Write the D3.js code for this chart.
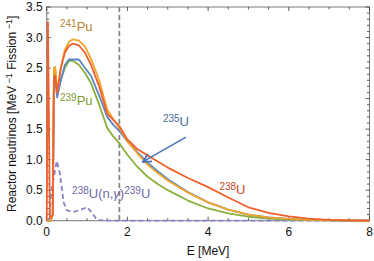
<!DOCTYPE html>
<html>
<head>
<meta charset="utf-8">
<script src="https://cdn.jsdelivr.net/npm/d3@7"></script>
<style>
  body { margin: 0; background: #fff; }
  text { font-family: "Liberation Sans", Arial, sans-serif; }
</style>
</head>
<body>
<div class="chart"></div>
<script>
// energy grid (MeV) shared by the four fission spectra
const energy = [0,0.03,0.08,0.1,0.15,0.18,0.21,0.26,0.35,0.45,0.55,0.65,0.8,0.95,1.1,1.3,1.5,1.65,1.8,2.0,2.25,2.5,2.75,3.0,3.5,4.0,4.5,5.0,5.5,6.0,6.5,7.0,7.5,8.0]
const u238  = [0,3.25,0.05,0.05,0.1,2.35,2.38,2.1,2.5,2.75,2.86,2.9,2.87,2.75,2.55,2.2,1.75,1.65,1.55,1.33,1.17,1.07,0.97,0.87,0.7,0.55,0.38,0.22,0.13,0.07,0.035,0.015,0.005,0]
const pu241 = [0,0,0,0,0.1,2.5,2.52,2.1,2.5,2.8,2.93,2.97,2.95,2.85,2.65,2.3,1.82,1.66,1.52,1.3,1.1,0.92,0.78,0.66,0.46,0.3,0.18,0.1,0.055,0.03,0.015,0.008,0.003,0]
const u235  = [0,0,0,0,0.1,2.3,2.3,2.02,2.3,2.55,2.64,2.64,2.64,2.5,2.37,2.05,1.7,1.57,1.47,1.3,1.12,0.95,0.81,0.68,0.47,0.3,0.18,0.1,0.055,0.03,0.015,0.008,0.003,0]
const pu239 = [0,0,0,0,0.1,2.5,2.5,2.08,2.3,2.5,2.62,2.62,2.55,2.42,2.25,1.9,1.52,1.38,1.27,1.08,0.88,0.72,0.6,0.5,0.33,0.2,0.12,0.065,0.035,0.02,0.01,0.005,0.002,0]

// 238U(n,gamma)239U spectrum
const captureE = [0,0.05,0.12,0.25,0.32,0.42,0.5,0.65,0.8,1.0,1.1,1.25,1.5,8]
const capture  = [0,0,0.5,0.98,0.8,0.3,0.17,0.14,0.17,0.22,0.15,0.01,0,0]

const threshold = 1.8
const xTicks = [0,2,4,6,8]
const yTicks = [0,0.5,1,1.5,2,2.5,3,3.5]

const width = 374, height = 261
const margin = {top: 7, right: 4.5, bottom: 40.3, left: 46.7}

const svg = d3.select('.chart').append('svg')
    .attr('width', width)
    .attr('height', height)

const x = d3.scaleLinear().domain([0, 8]).range([margin.left, width - margin.right])
const y = d3.scaleLinear().domain([0, 3.5]).range([height - margin.bottom, margin.top])

const tickColor = '#333'

// frame
svg.append('rect')
    .attr('x', x(0)).attr('y', y(3.5))
    .attr('width', x(8) - x(0)).attr('height', y(0) - y(3.5))
    .attr('fill', 'none').attr('stroke', '#7a7a7a').attr('stroke-width', 1)

// minor + major ticks on all four sides, pointing inward
d3.range(0, 8.01, 0.5).forEach(t => {
    const major = Math.abs(t % 2) < 1e-6
    const len = major ? 4 : 2.5
    svg.append('line').attr('x1', x(t)).attr('x2', x(t))
        .attr('y1', y(0)).attr('y2', y(0) - len).attr('stroke', tickColor).attr('stroke-width', 0.8)
    svg.append('line').attr('x1', x(t)).attr('x2', x(t))
        .attr('y1', y(3.5)).attr('y2', y(3.5) + len).attr('stroke', tickColor).attr('stroke-width', 0.8)
})
d3.range(0, 3.501, 0.1).forEach(t => {
    const major = Math.abs(Math.round(t * 10) % 5) === 0
    const len = major ? 4 : 2.5
    svg.append('line').attr('x1', x(0)).attr('x2', x(0) + len)
        .attr('y1', y(t)).attr('y2', y(t)).attr('stroke', tickColor).attr('stroke-width', 0.8)
    svg.append('line').attr('x1', x(8)).attr('x2', x(8) - len)
        .attr('y1', y(t)).attr('y2', y(t)).attr('stroke', tickColor).attr('stroke-width', 0.8)
})

// tick labels
svg.selectAll('.xl').data(xTicks).enter().append('text')
    .attr('x', d => x(d)).attr('y', y(0) + 15)
    .attr('text-anchor', 'middle').attr('font-size', 12).attr('fill', '#111')
    .text(d => d)
svg.selectAll('.yl').data(yTicks).enter().append('text')
    .attr('x', x(0) - 4).attr('y', d => y(d) + 4)
    .attr('text-anchor', 'end').attr('font-size', 12).attr('fill', '#111')
    .text(d => d.toFixed(1))

// axis titles
svg.append('text')
    .attr('x', (x(0) + x(8)) / 2).attr('y', 255)
    .attr('text-anchor', 'middle').attr('font-size', 12).attr('fill', '#111')
    .text('E [MeV]')
const yt = svg.append('text')
    .attr('transform', 'translate(16,' + ((y(0) + y(3.5)) / 2) + ') rotate(-90)')
    .attr('text-anchor', 'middle').attr('font-size', 12).attr('fill', '#111')
yt.append('tspan').text('Reactor neutrinos [MeV')
yt.append('tspan').attr('dy', -4).attr('font-size', 9).text(' \u22121')
yt.append('tspan').attr('dy', 4).text(' Fission')
yt.append('tspan').attr('dy', -4).attr('font-size', 9).text(' \u22121')
yt.append('tspan').attr('dy', 4).text(']')

// threshold
svg.append('line')
    .attr('x1', x(threshold)).attr('x2', x(threshold))
    .attr('y1', y(3.5)).attr('y2', y(0))
    .attr('stroke', '#8a8a8a').attr('stroke-width', 1.8).attr('stroke-dasharray', '5,3')

let line = d3.line().x(d => x(d[0])).y(d => y(d[1]))

// capture spectrum, dashed
svg.append('path')
    .datum(captureE.map((e, i) => [e, capture[i]]))
    .attr('d', line).attr('fill', 'none')
    .attr('stroke', '#8a82c4').attr('stroke-width', 1.8).attr('stroke-dasharray', '5,3')

const series = [
    {vals: pu239, color: '#8bb03a'},
    {vals: u235, color: '#5a86c6'},
    {vals: pu241, color: '#f2a52a'},
    {vals: u238, color: '#f0602c'}
]
series.forEach(s => {
    svg.append('path')
        .datum(energy.map((e, i) => [e, s.vals[i]]))
        .attr('d', line).attr('fill', 'none')
        .attr('stroke', s.color).attr('stroke-width', 1.8)
        .attr('stroke-linejoin', 'round')
})

// arrow to 235U curve
svg.append('defs').append('marker')
    .attr('id', 'head').attr('viewBox', '0 0 10 10')
    .attr('refX', 8).attr('refY', 5)
    .attr('markerWidth', 7).attr('markerHeight', 7)
    .attr('orient', 'auto')
    .append('path').attr('d', 'M1,1 L9,5 L1,9').attr('fill', 'none')
    .attr('stroke', '#4a72b8').attr('stroke-width', 1.6)
svg.append('line')
    .attr('x1', x(3.45)).attr('y1', y(1.37))
    .attr('x2', x(2.4)).attr('y2', y(0.97))
    .attr('stroke', '#4a72b8').attr('stroke-width', 1.5)
    .attr('marker-end', 'url(#head)')

// isotope labels
function isoLabel(px, py, mass, rest, color) {
    const t = svg.append('text').attr('x', px).attr('y', py).attr('font-size', 13).attr('fill', color)
    t.append('tspan').attr('dy', -4).attr('font-size', 10).text(mass)
    t.append('tspan').attr('dy', 4).text(rest)
    return t
}
isoLabel(x(0.33), y(3.1), '241', 'Pu', '#b8842e')
isoLabel(x(0.33), y(1.9), '239', 'Pu', '#7e9c33')
isoLabel(x(2.88), y(1.55), '235', 'U', '#4a6a9c')
isoLabel(x(4.28), y(0.43), '238', 'U', '#c04a2a')
const cap = svg.append('text').attr('x', x(0.63)).attr('y', y(0.37)).attr('font-size', 13).attr('fill', '#6e6aa6')
cap.append('tspan').attr('dy', -4).attr('font-size', 10).text('238')
cap.append('tspan').attr('dy', 4).text('U(n,')
cap.append('tspan').attr('font-style', 'italic').text('\u03b3')
cap.append('tspan').text(')')
cap.append('tspan').attr('dy', -4).attr('font-size', 10).text('239')
cap.append('tspan').attr('dy', 4).text('U')
</script>
</body>
</html>
